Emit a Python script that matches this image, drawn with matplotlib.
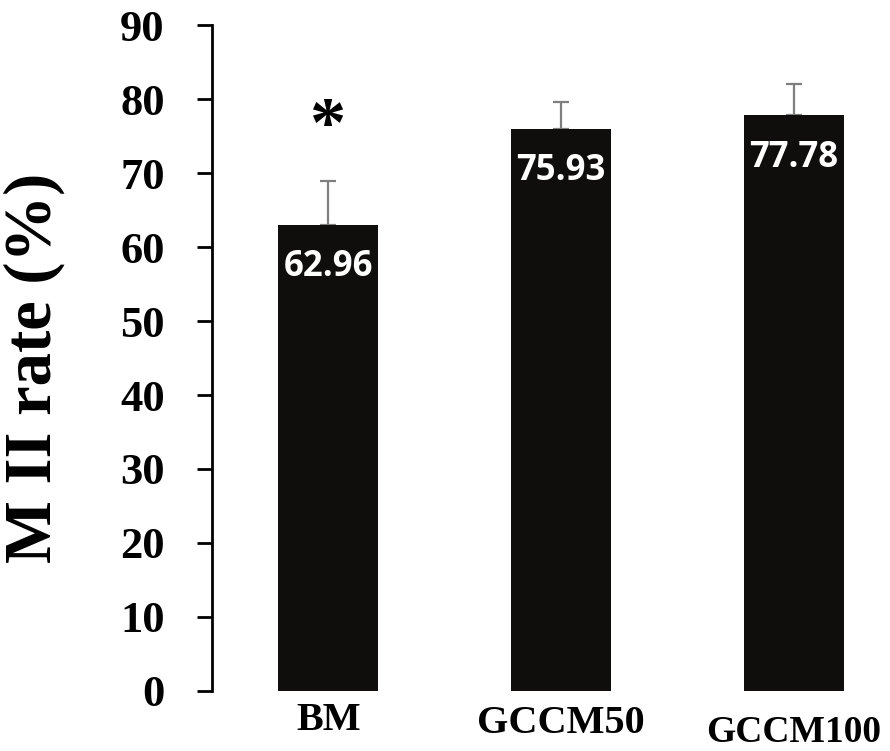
import numpy as np
import matplotlib
matplotlib.use('Agg')
import matplotlib.pyplot as plt

groups = ['BM', 'GCCM50', 'GCCM100']
rates = [62.96, 75.93, 77.78]
err_up = [5.9, 3.7, 4.3]
value_labels = ['62.96', '75.93', '77.78']
label_drop = [0, 3, 12]   # px the x labels sit lower, as in the picture

fig = plt.figure(figsize=(8.9, 7.51), dpi=100)
ax = fig.add_axes([0.2382, 0.0799, 0.7843, 0.8868])

x = np.arange(len(groups))
ax.bar(x, rates, width=0.43, color='#100e0d', zorder=2)
ax.errorbar(x, rates, yerr=[np.zeros(len(rates)), err_up], fmt='none',
            ecolor='#7f7f7f', elinewidth=1.6, capsize=6, capthick=1.6, zorder=1)

# value labels inside the bars
for xi, r, s in zip(x, rates, value_labels):
    ax.text(xi, r - 5.7, s, ha='center', va='center', color='white',
            fontsize=25, fontweight='bold', family='Open Sans', zorder=3)

# significance mark
ax.text(x[0], 76.0, '*', ha='center', va='center', fontsize=52,
        fontweight='bold', family='Liberation Serif')

ax.set_xlim(-0.5, 2.5)
ax.set_ylim(0, 90)
ax.set_yticks(np.arange(0, 91, 10))
ax.tick_params(axis='y', direction='out', length=11, width=2, pad=23,
               labelsize=32)
for lab in ax.get_yticklabels():
    lab.set_family('Liberation Serif')
    lab.set_fontweight('bold')
ax.set_xticks([])

for sp in ['top', 'right', 'bottom']:
    ax.spines[sp].set_visible(False)
ax.spines['left'].set_linewidth(2)

for xi, g, d in zip(x, groups, label_drop):
    fs = 27 if g == 'GCCM100' else 29
    ax.annotate(g, xy=(xi, 0), xycoords=('data', 'axes fraction'),
                xytext=(0, -30 - d), textcoords='offset pixels',
                ha='center', va='center', fontsize=fs, fontweight='bold',
                family='Liberation Serif', annotation_clip=False)

ax.set_ylabel('M II rate (%)', fontsize=48, fontweight='bold',
              family='Liberation Serif')
ax.yaxis.set_label_coords(-0.21, 0.485)

fig.savefig('out.png', dpi=100)
